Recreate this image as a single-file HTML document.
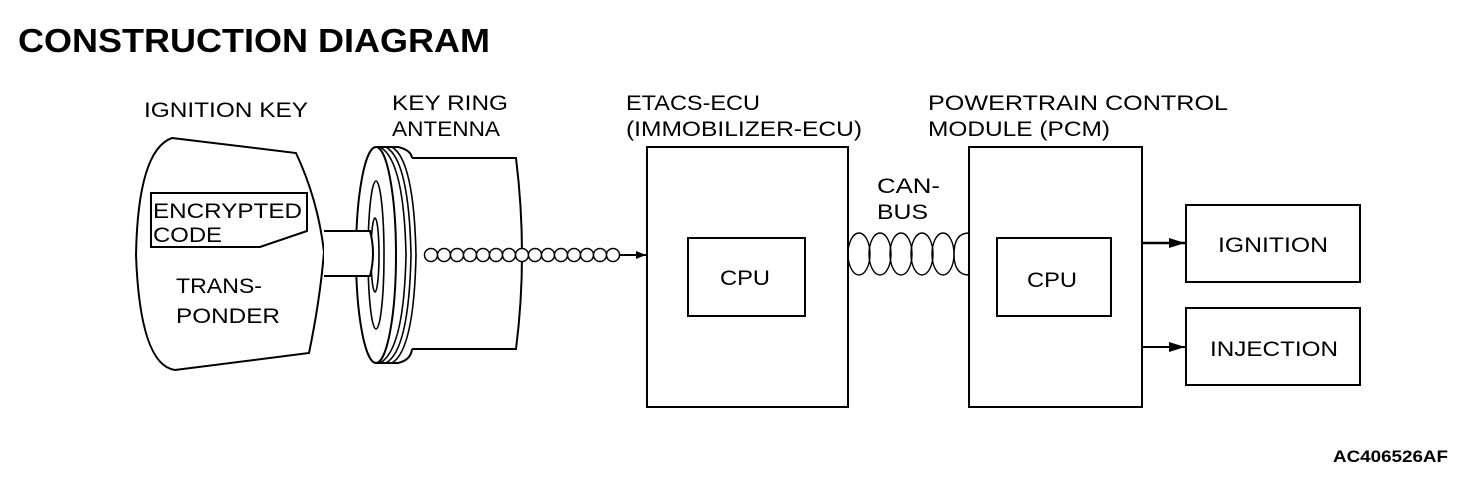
<!DOCTYPE html>
<html><head><style>
html,body{margin:0;padding:0;background:#fff;}
svg{display:block;}
text{font-family:"Liberation Sans",Arial,sans-serif;fill:#000;}
</style></head><body>
<svg width="1472" height="478" viewBox="0 0 1472 478" xmlns="http://www.w3.org/2000/svg">
<defs>
<marker id="ar" markerWidth="10" markerHeight="8" refX="10" refY="4" orient="auto" markerUnits="userSpaceOnUse">
<path d="M0,0 L10,4 L0,8 Z" fill="#000"/></marker>
<marker id="ar2" markerWidth="16" markerHeight="10" refX="16" refY="5" orient="auto" markerUnits="userSpaceOnUse">
<path d="M0,0 L16,5 L0,10 Z" fill="#000"/></marker>
</defs>
<text x="18" y="52" font-size="33" font-weight="bold" textLength="472" lengthAdjust="spacingAndGlyphs">CONSTRUCTION DIAGRAM</text>
<text x="144" y="117" font-size="21" textLength="164" lengthAdjust="spacingAndGlyphs">IGNITION KEY</text>
<text x="392" y="110" font-size="21" textLength="116" lengthAdjust="spacingAndGlyphs">KEY RING</text>
<text x="392" y="136" font-size="21" textLength="108" lengthAdjust="spacingAndGlyphs">ANTENNA</text>
<text x="626" y="110" font-size="21" textLength="134" lengthAdjust="spacingAndGlyphs">ETACS-ECU</text>
<text x="626" y="136" font-size="21" textLength="236" lengthAdjust="spacingAndGlyphs">(IMMOBILIZER-ECU)</text>
<text x="928" y="110" font-size="21" textLength="300" lengthAdjust="spacingAndGlyphs">POWERTRAIN  CONTROL</text>
<text x="928" y="136" font-size="21" textLength="182" lengthAdjust="spacingAndGlyphs">MODULE (PCM)</text>
<text x="877" y="193" font-size="21" textLength="63" lengthAdjust="spacingAndGlyphs">CAN-</text>
<text x="877" y="219" font-size="21" textLength="51" lengthAdjust="spacingAndGlyphs">BUS</text>
<g fill="none" stroke="#000" stroke-width="2">
<path d="M172,138 L296,153 Q318,200 324,252 Q320,300 309,353 L175,370 Q140,365 136,255 Q138,150 172,138 Z"/>
<path d="M151,193 L307,193 L307,231 L260,247 L151,247 Z"/>
<path d="M412,158 L516,158 Q528,255 516,349 L412,349"/>
<ellipse cx="376" cy="255" rx="20" ry="108" fill="#fff"/>
<path d="M380,147 Q404,160 406,255 Q404,350 380,363" stroke-width="1.6"/>
<path d="M386,147 Q409,160 411,255 Q409,350 386,363" stroke-width="1.6"/>
<path d="M392,147 Q414,160 416,255 Q414,350 392,363" stroke-width="1.6"/>
<path d="M376,147 L398,147 Q411,150 412,158 M376,363 L398,363 Q411,360 412,349"/>
<ellipse cx="376" cy="255" rx="8" ry="74" stroke-width="1.6"/>
<ellipse cx="375" cy="255" rx="4" ry="37" stroke-width="1.6"/>
<path d="M324,231 L370,231 Q376,253 370,276 L324,276" fill="#fff"/>
</g>
<g fill="#fff" stroke="#000" stroke-width="1.5">
<circle cx="431" cy="255" r="6.5"/><circle cx="444" cy="255" r="6.5"/><circle cx="457" cy="255" r="6.5"/>
<circle cx="470" cy="255" r="6.5"/><circle cx="483" cy="255" r="6.5"/><circle cx="496" cy="255" r="6.5"/>
<circle cx="509" cy="255" r="6.5"/><circle cx="522" cy="255" r="6.5"/><circle cx="535" cy="255" r="6.5"/>
<circle cx="548" cy="255" r="6.5"/><circle cx="561" cy="255" r="6.5"/><circle cx="574" cy="255" r="6.5"/>
<circle cx="587" cy="255" r="6.5"/><circle cx="600" cy="255" r="6.5"/><circle cx="613" cy="255" r="6.5"/>
</g>
<line x1="620" y1="255" x2="646" y2="255" stroke="#000" stroke-width="2" marker-end="url(#ar)"/>
<g fill="none" stroke="#000" stroke-width="2">
<rect x="647" y="147" width="201" height="260"/>
<rect x="688" y="238" width="117" height="78"/>
<rect x="969" y="147" width="173" height="260"/>
<rect x="997" y="238" width="114" height="78"/>
<rect x="1186" y="205" width="174" height="77"/>
<rect x="1186" y="308" width="174" height="77"/>
</g>
<g fill="none" stroke="#000" stroke-width="1.4">
<ellipse cx="859" cy="254" rx="11" ry="21"/><ellipse cx="880" cy="254" rx="11" ry="21"/>
<ellipse cx="901" cy="254" rx="11" ry="21"/><ellipse cx="922" cy="254" rx="11" ry="21"/>
<ellipse cx="943" cy="254" rx="11" ry="21"/>
<path d="M969,233 Q954,233 954,254 Q954,275 969,275"/>
</g>
<line x1="1142" y1="243" x2="1185" y2="243" stroke="#000" stroke-width="2.5" marker-end="url(#ar2)"/>
<line x1="1142" y1="347" x2="1185" y2="347" stroke="#000" stroke-width="2" marker-end="url(#ar2)"/>
<text x="153" y="218" font-size="21" textLength="149" lengthAdjust="spacingAndGlyphs">ENCRYPTED</text>
<text x="153" y="242" font-size="21" textLength="69" lengthAdjust="spacingAndGlyphs">CODE</text>
<text x="176" y="293" font-size="21" textLength="86" lengthAdjust="spacingAndGlyphs">TRANS-</text>
<text x="176" y="323" font-size="21" textLength="104" lengthAdjust="spacingAndGlyphs">PONDER</text>
<text x="720" y="285" font-size="21" textLength="50" lengthAdjust="spacingAndGlyphs">CPU</text>
<text x="1027" y="287" font-size="21" textLength="50" lengthAdjust="spacingAndGlyphs">CPU</text>
<text x="1218" y="252" font-size="21" textLength="110" lengthAdjust="spacingAndGlyphs">IGNITION</text>
<text x="1210" y="356" font-size="21" textLength="128" lengthAdjust="spacingAndGlyphs">INJECTION</text>
<text x="1333" y="462" font-size="17" font-weight="bold" textLength="115" lengthAdjust="spacingAndGlyphs">AC406526AF</text>
</svg>
</body></html>
